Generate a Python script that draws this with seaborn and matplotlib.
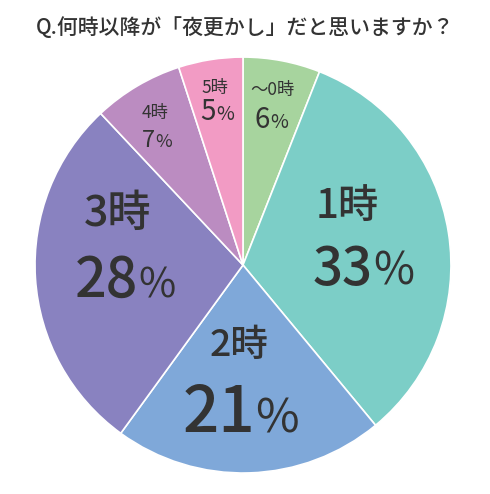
import matplotlib
matplotlib.use("Agg")
import matplotlib.pyplot as plt
import seaborn as sns

# data
hours = ["～0時", "1時", "2時", "3時", "4時", "5時"]
shares = [6, 33, 21, 28, 7, 5]
colors = ["#a7d49e", "#7ccec7", "#7fa8d9", "#8982c0", "#bb8cc1", "#f29bc4"]

# label layout (pie data coords, radius = 1)
hour_pos = [(0.144, 0.844), (0.50, 0.281), (-0.017, -0.382),
            (-0.603, 0.25), (-0.423, 0.733), (-0.135, 0.853)]
hour_size = [12.5, 29, 27, 31, 12.5, 12.5]
pct_pos = [(0.13, 0.659), (0.625, -0.096), (0.058, -0.803),
           (-0.505, -0.154), (-0.421, 0.567), (-0.13, 0.697)]
num_size = [20, 38, 46, 40, 17, 20]
sign_size = [14, 32, 34, 29, 13, 14]

sns.set_theme(style="white")
plt.rcParams["font.family"] = ["Noto Sans CJK JP", "DejaVu Sans"]
txt = "#333333"

fig = plt.figure(figsize=(4.9, 4.94), dpi=100)
ax = fig.add_axes([0.0714, 0.0425, 0.849, 0.842])
ax.pie(shares, colors=sns.color_palette(colors), startangle=90, counterclock=False,
       radius=1, wedgeprops=dict(edgecolor="white", linewidth=1.2))
ax.set_xlim(-1, 1)
ax.set_ylim(-1, 1)
ax.set_aspect("equal")
ax.axis("off")

for i, h in enumerate(hours):
    big = hour_size[i] > 20
    x, y = hour_pos[i]
    ax.text(x, y, h, ha="center", va="center", fontsize=hour_size[i],
            color=txt, fontweight="medium" if big else "normal")
    px, py = pct_pos[i]
    ax.text(px, py, str(shares[i]), ha="right", va="baseline", fontsize=num_size[i],
            color=txt, fontweight="medium" if big else "normal")
    ax.text(px, py, "%", ha="left", va="baseline", fontsize=sign_size[i],
            color=txt, fontweight="normal")

fig.text(0.5, 1 - 28 / 494, "Q.何時以降が「夜更かし」だと思いますか？",
         ha="center", va="center", fontsize=15, color=txt, fontweight="medium")

fig.savefig("out.png", dpi=100)
